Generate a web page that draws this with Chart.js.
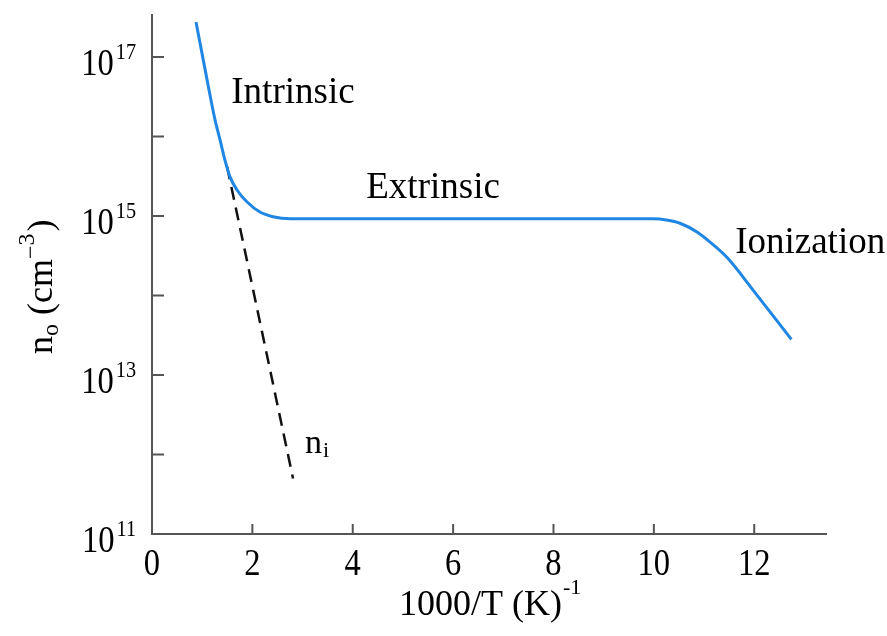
<!DOCTYPE html>
<html>
<head>
<meta charset="utf-8">
<script src="https://cdn.jsdelivr.net/npm/chart.js@4"></script>
<style>
  html, body { margin: 0; padding: 0; background: #fff; }
  canvas { display: block; }
</style>
</head>
<body>
<canvas id="chart" width="887" height="636"></canvas>
<script>
// n0 vs 1000/T
const invTemp = [0.877, 1.05, 1.256, 1.355, 1.455, 1.555, 1.69, 1.89, 2.15, 2.41, 2.75, 10.0, 10.25, 10.52, 10.86, 11.12, 11.46, 12.0, 12.74];
const electronConc = [2.75e17, 7.4e16, 1.62e16, 9.1e15, 5.0e15, 3.1e15, 2.14e15, 1.51e15, 1.12e15, 9.8e14, 9.25e14, 9.25e14, 8.9e14, 8.1e14, 6.3e14, 4.7e14, 3.0e14, 1.12e14, 2.8e13];

// intrinsic ni (dashed)
const niX = [1.495, 2.81];
const niY = [4.2e15, 5.0e11];

const xTicks = [0, 2, 4, 6, 8, 10, 12];
const yExponents = [11, 12, 13, 14, 15, 16, 17];
const yLabelExponents = [11, 13, 15, 17];

const serif = '"Liberation Serif", "Times New Roman", serif';
const axisColor = '#555';

function drawNum(ctx, text, x, y, size, align) {
  // slightly condensed digits like the original
  ctx.save();
  ctx.font = size + 'px ' + serif;
  const w = ctx.measureText(text).width * 0.88;
  let left = x;
  if (align === 'center') left = x - w / 2;
  if (align === 'right') left = x - w;
  ctx.translate(left, y);
  ctx.scale(0.88, 1);
  ctx.textAlign = 'left';
  ctx.fillText(text, 0, 0);
  ctx.restore();
  return w;
}

const axesPlugin = {
  id: 'axesPlugin',
  afterDraw(chart) {
    const { ctx, chartArea: a, scales: { x, y } } = chart;
    ctx.save();
    ctx.strokeStyle = axisColor;
    ctx.lineWidth = 2;
    ctx.beginPath();
    ctx.moveTo(a.left, a.top);
    ctx.lineTo(a.left, a.bottom);
    ctx.lineTo(a.right, a.bottom);
    ctx.stroke();

    // ticks point inward
    ctx.beginPath();
    xTicks.forEach(v => {
      if (v === 0) return;
      const px = x.getPixelForValue(v);
      ctx.moveTo(px, a.bottom);
      ctx.lineTo(px, a.bottom - 10);
    });
    yExponents.forEach(e => {
      if (e === 11) return;
      const py = y.getPixelForValue(Math.pow(10, e));
      ctx.moveTo(a.left, py);
      ctx.lineTo(a.left + 12, py);
    });
    ctx.stroke();

    ctx.fillStyle = '#000';
    ctx.textBaseline = 'alphabetic';
    xTicks.forEach(v => {
      drawNum(ctx, String(v), x.getPixelForValue(v), a.bottom + 41, 37, 'center');
    });
    yLabelExponents.forEach(e => {
      const py = y.getPixelForValue(Math.pow(10, e));
      const supW = drawNum(ctx, String(e), 136, py + 2, 23, 'right');
      drawNum(ctx, '10', 136 - supW - 2, py + 18, 37, 'right');
    });

    // axis titles
    ctx.font = '36px ' + serif;
    ctx.textAlign = 'left';
    const xt = '1000/T (K)';
    const xw = ctx.measureText(xt).width;
    const xl = 399;
    ctx.fillText(xt, xl, 615);
    ctx.font = '22px ' + serif;
    ctx.fillText('-1', xl + xw + 1, 594);

    ctx.save();
    ctx.translate(52, 354);
    ctx.rotate(-Math.PI / 2);
    ctx.font = '36px ' + serif;
    ctx.fillText('n', 0, 0);
    let cx = ctx.measureText('n').width;
    ctx.font = '24px ' + serif;
    ctx.fillText('o', cx, 6);
    cx += ctx.measureText('o').width;
    ctx.font = '36px ' + serif;
    ctx.fillText(' (cm', cx, 0);
    cx += ctx.measureText(' (cm').width;
    ctx.font = '24px ' + serif;
    ctx.fillText('\u2212', cx, -14);
    cx += ctx.measureText('\u2212').width;
    ctx.fillText('3', cx, -18);
    cx += ctx.measureText('3').width + 2;
    ctx.font = '36px ' + serif;
    ctx.fillText(')', cx, 0);
    ctx.restore();

    // region labels
    ctx.font = '37px ' + serif;
    ctx.textAlign = 'left';
    ctx.fillText('Intrinsic', x.getPixelForValue(1.58), y.getPixelForValue(2.6e16));
    ctx.textAlign = 'center';
    ctx.fillText('Extrinsic', x.getPixelForValue(5.6), y.getPixelForValue(1.7e15));
    ctx.textAlign = 'left';
    ctx.fillText('Ionization', x.getPixelForValue(11.62), y.getPixelForValue(3.4e14));

    const nx = x.getPixelForValue(3.05), ny = y.getPixelForValue(1.05e12);
    ctx.font = '34px ' + serif;
    ctx.fillText('n', nx, ny);
    const nw = ctx.measureText('n').width;
    ctx.font = '22px ' + serif;
    ctx.fillText('i', nx + nw + 1, ny + 4);
    ctx.restore();
  }
};

new Chart(document.getElementById('chart'), {
  type: 'scatter',
  data: {
    datasets: [
      {
        label: 'n0',
        data: invTemp.map((v, i) => ({ x: v, y: electronConc[i] })),
        showLine: true,
        borderColor: '#1f87e3',
        borderWidth: 3,
        pointRadius: 0,
        cubicInterpolationMode: 'monotone'
      },
      {
        label: 'ni',
        data: niX.map((v, i) => ({ x: v, y: niY[i] })),
        showLine: true,
        borderColor: '#111',
        borderWidth: 2.5,
        borderDash: [13, 8],
        pointRadius: 0
      }
    ]
  },
  options: {
    responsive: false,
    animation: false,
    layout: { padding: { left: 152, right: 60, top: 14, bottom: 102 } },
    plugins: { legend: { display: false }, tooltip: { enabled: false } },
    scales: {
      x: { type: 'linear', min: 0, max: 13.45, display: false },
      y: { type: 'logarithmic', min: 1e11, max: 3.47e17, bounds: 'data', display: false }
    }
  },
  plugins: [axesPlugin]
});
</script>
</body>
</html>
